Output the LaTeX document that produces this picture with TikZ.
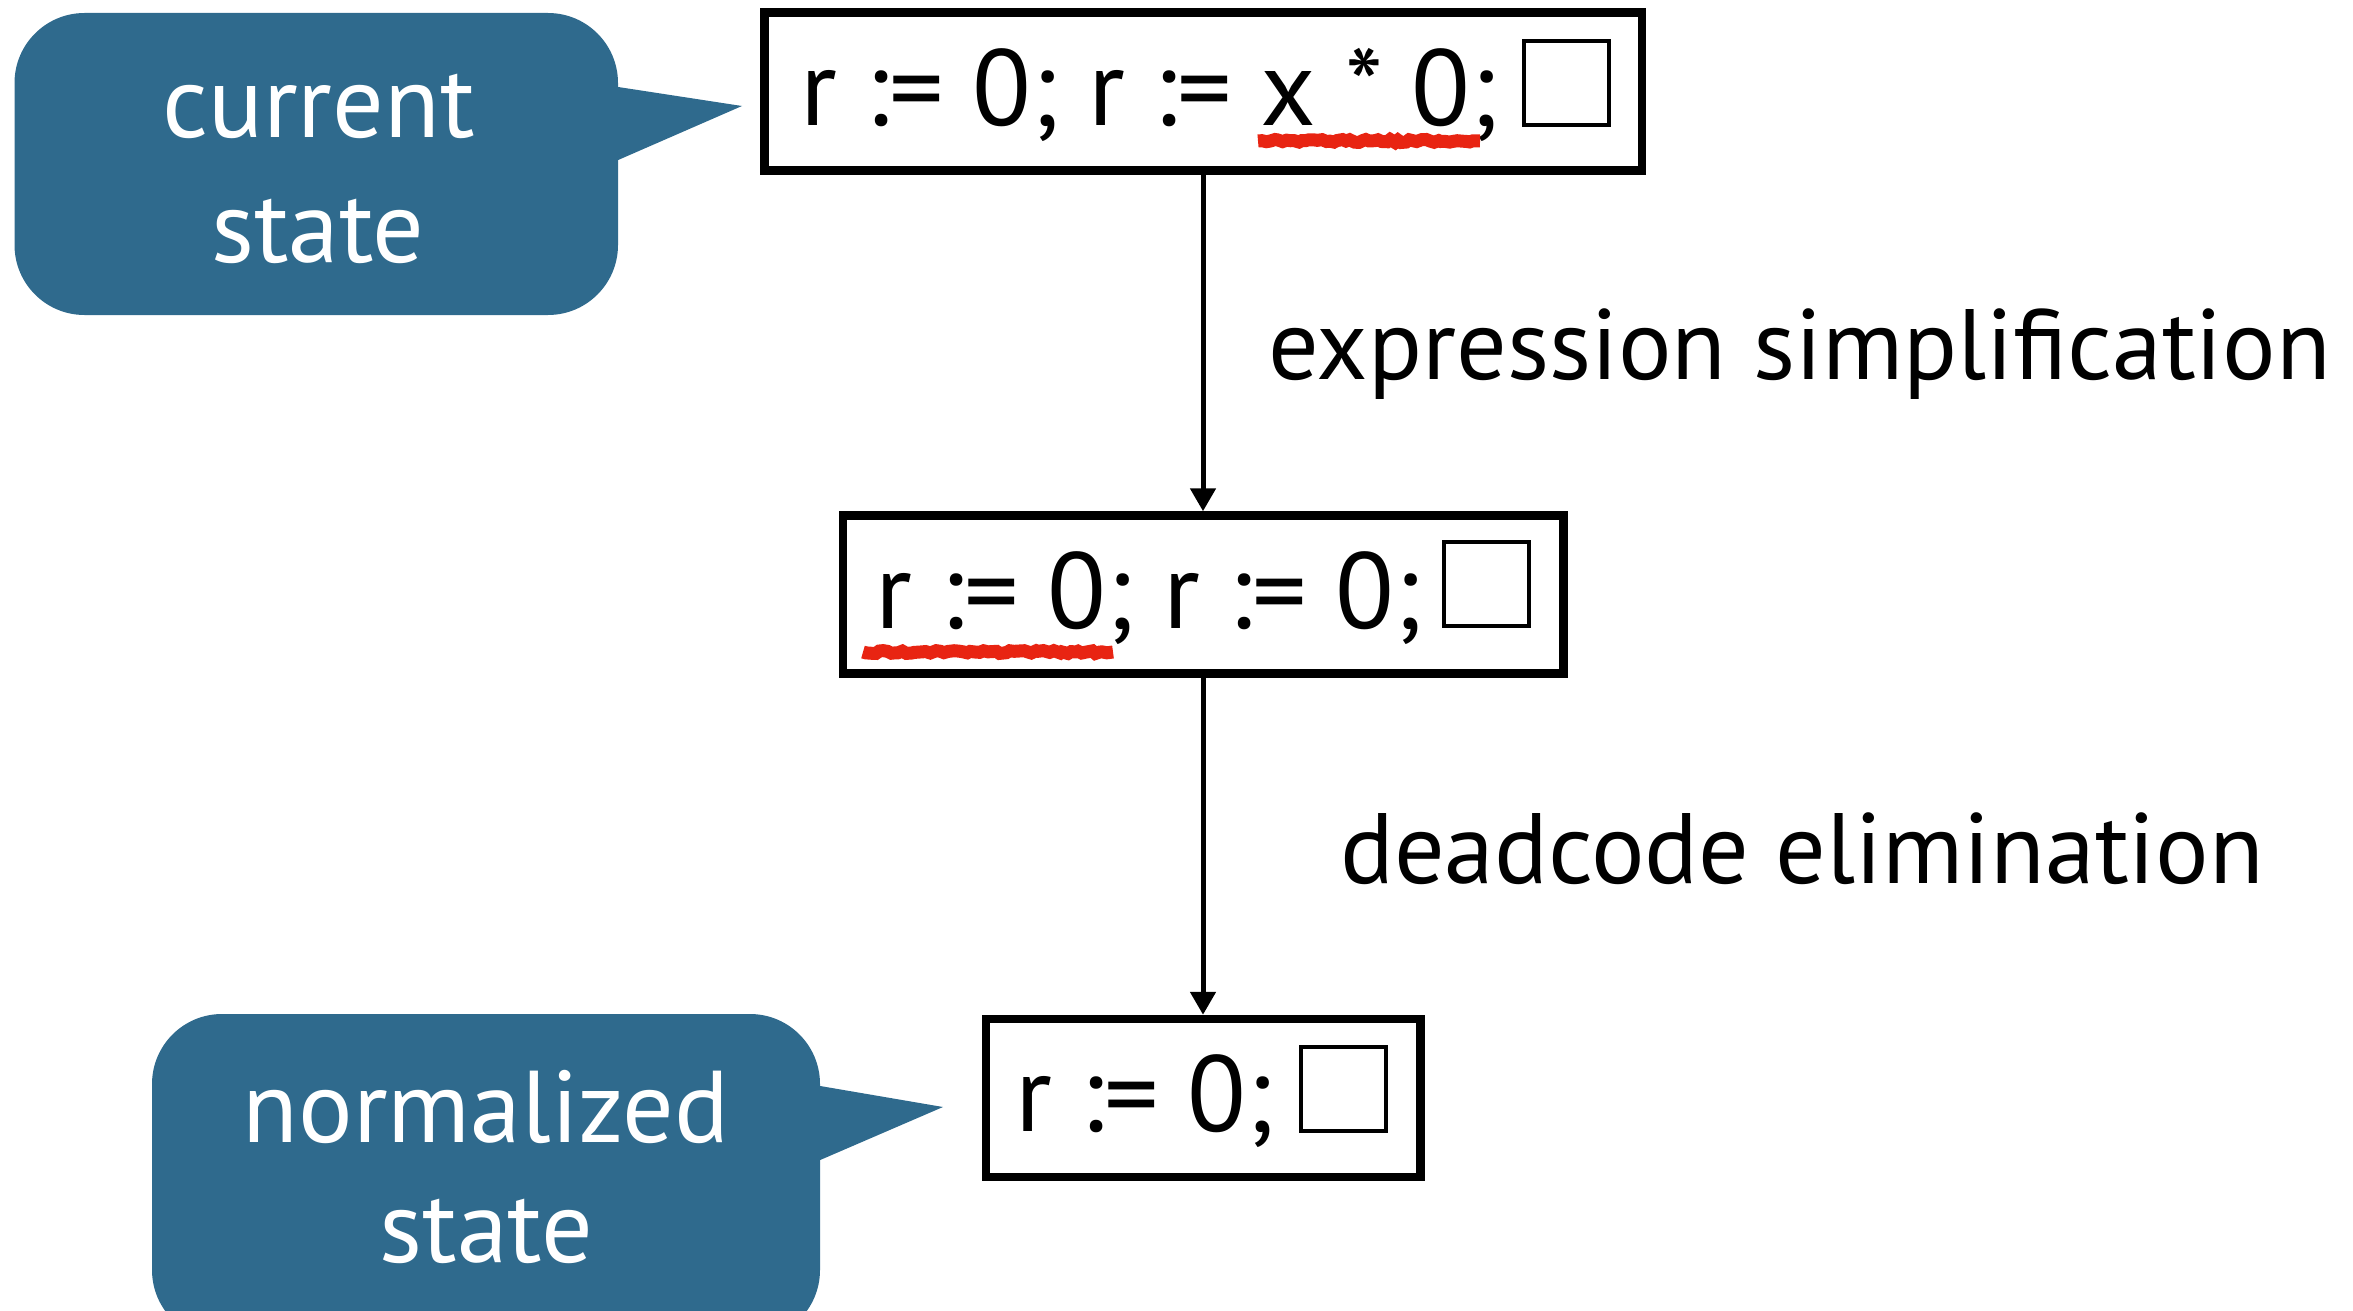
\documentclass[tikz,border=0pt]{standalone}
\usepackage{fontspec}
\setmainfont{PT Sans}
\usetikzlibrary{arrows.meta,decorations.pathmorphing}
\definecolor{calloutblue}{RGB}{47,106,141}
\definecolor{squiggle}{RGB}{232,36,18}
\tikzset{
  stage/.style={draw,line width=8.5pt,inner sep=0pt,minimum height=158pt},
  hole/.style={draw,line width=4pt,inner sep=0pt,minimum width=85pt,minimum height=84pt},
  code/.style={anchor=base west,inner sep=0pt,font=\fontsize{108}{130}\selectfont},
  steplabel/.style={anchor=base west,inner sep=0pt,font=\fontsize{100}{120}\selectfont},
  bubble/.style={fill=calloutblue,rounded corners=70pt,inner sep=0pt},
  bubbletext/.style={anchor=base,inner sep=0pt,text=white,font=\fontsize{102}{120}\selectfont},
  flow/.style={line width=5pt,-{Triangle[width=25pt,length=23pt]}},
  wavy/.style={squiggle,line width=13pt,decorate,
    decoration={random steps,segment length=4pt,amplitude=1.5pt}},
}
\begin{document}
\begin{tikzpicture}[x=1pt,y=-1pt]
\useasboundingbox (0,0) rectangle (2353,1311);
\clip (0,0) rectangle (2353,1311);
\pgfmathsetseed{7}

% program states
\node[stage,minimum width=877.5pt] (s1) at (1203,91.5) {};
\node[stage,minimum width=720.5pt] (s2) at (1203,594.5) {};
\node[stage,minimum width=434.5pt] (s3) at (1203,1098) {};

\node[code] (c1) at (800,126) {r := 0; r := x * 0;};
\node[code] (c2) at (875,628) {r := 0; r := 0;};
\node[code] (c3) at (1015,1131) {r := 0;};

\node[hole] (h1) at (1566.5,83) {};
\node[hole] (h2) at (1486.5,584) {};
\node[hole] (h3) at (1343.5,1088.5) {};

% redexes
\draw[wavy] (1258,141) -- (1480,141);
\draw[wavy] (863,652) -- (1113,652);

% rewriting steps
\draw[flow] (s1) -- (s2);
\draw[flow] (s2) -- (s3);
\node[steplabel] (l1) at (1268,379) {expression simplification};
\node[steplabel] (l2) at (1340,883) {deadcode elimination};

% speech bubbles
\node[bubble,minimum width=603.5pt,minimum height=302pt] (b1) at (316.25,164) {};
\coordinate (t1) at (742,106);
\fill[calloutblue] (b1.east |- 0,87) -- (t1) -- (b1.east |- 0,160) -- cycle;
\node[bubbletext] (w1) at (318.5,138) {current};
\node[bubbletext] (w2) at (318,262) {state};

\node[bubble,minimum width=668pt,minimum height=326pt] (b2) at (486,1177) {};
\coordinate (t2) at (943,1107);
\fill[calloutblue] (b2.east |- 0,1086) -- (t2) -- (b2.east |- 0,1160) -- cycle;
\node[bubbletext] (w3) at (486,1142) {normalized};
\node[bubbletext] (w4) at (486.5,1262) {state};
\end{tikzpicture}
\end{document}
